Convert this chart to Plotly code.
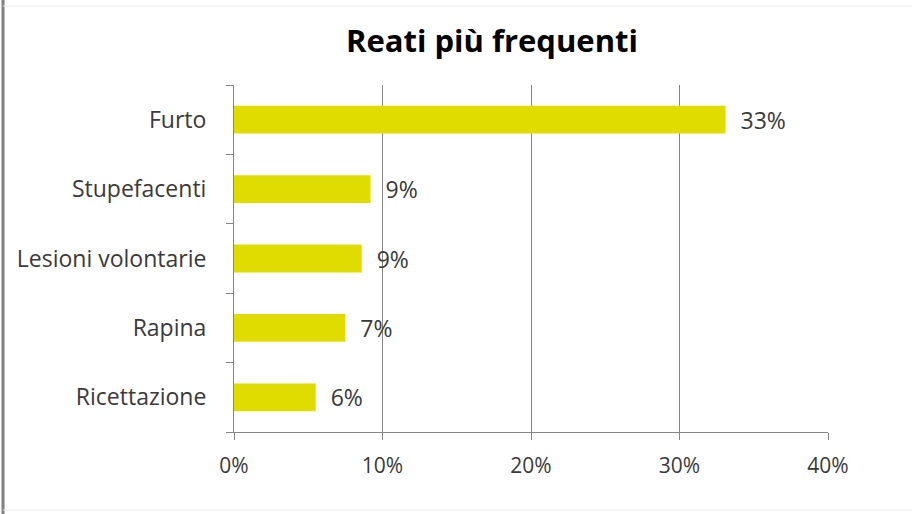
import plotly.graph_objects as go

categories = ["Furto", "Stupefacenti", "Lesioni volontarie", "Rapina", "Ricettazione"]
values = [33.1, 9.2, 8.6, 7.5, 5.5]
value_labels = ["33%", "9%", "9%", "7%", "6%"]
x_ticks = [0, 10, 20, 30, 40]
x_tick_labels = ["0%", "10%", "20%", "30%", "40%"]

W, H = 914, 514
L, R, T, B = 234, 86, 85, 82
pw, ph = W - L - R, H - T - B

def px(x):
    return (x - L) / pw

def py(y):
    return (H - B - y) / ph

FONT = "Open Sans"
TXT = "#3A3A3A"
AX = "#868686"

fig = go.Figure(go.Bar(
    y=categories, x=values, orientation="h",
    marker=dict(color="#E0DC00", line=dict(width=0)),
    text=value_labels, texttemplate="  %{text}", textposition="outside",
    constraintext="none",
    textfont=dict(family=FONT, size=23, color=TXT),
    cliponaxis=False,
))

fig.update_layout(
    width=W, height=H,
    margin=dict(l=L, r=R, t=T, b=B),
    paper_bgcolor="white", plot_bgcolor="white",
    bargap=0.6,
    showlegend=False,
    title=dict(text="<b>Reati più frequenti</b>", xref="container", x=492 / W,
               xanchor="center", yref="container", y=1 - 41 / H, yanchor="middle",
               font=dict(family=FONT, size=31, color="#000000")),
    xaxis=dict(range=[0, 40], tickvals=x_ticks, ticktext=x_tick_labels,
               showgrid=True, gridcolor=AX, gridwidth=1,
               showline=True, linecolor=AX, linewidth=1,
               ticks="outside", ticklen=7, tickcolor=AX,
               ticklabelstandoff=8,
               tickfont=dict(family=FONT, size=21, color=TXT),
               zeroline=False, fixedrange=True),
    yaxis=dict(categoryorder="array", categoryarray=categories[::-1],
               autorange=False, range=[-0.5, len(categories) - 0.5],
               showline=True, linecolor=AX, linewidth=1,
               ticks="outside", ticklen=7, tickcolor=AX,
               tickson="boundaries", ticklabelstandoff=22,
               tickfont=dict(family=FONT, size=23, color=TXT),
               showgrid=False, fixedrange=True),
    shapes=[
        dict(type="line", xref="paper", yref="paper", x0=px(3), x1=px(3),
             y0=py(0), y1=py(514), line=dict(color="#808080", width=3)),
        dict(type="line", xref="paper", yref="paper", x0=px(3), x1=px(912),
             y0=py(6), y1=py(6), line=dict(color="#EAEAEA", width=1)),
        dict(type="line", xref="paper", yref="paper", x0=px(3), x1=px(912),
             y0=py(510), y1=py(510), line=dict(color="#EAEAEA", width=1)),
    ],
)

fig.write_html("out.html", config={"displayModeBar": False},
               post_script="document.body.style.margin='0';")
